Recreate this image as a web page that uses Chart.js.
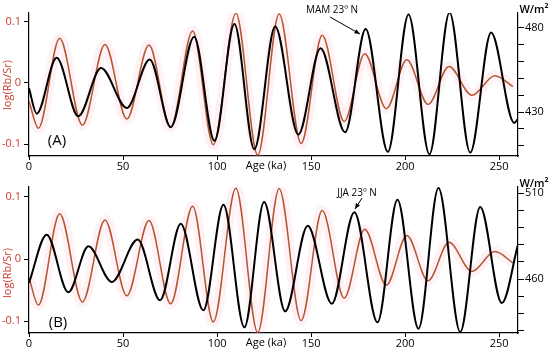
<!DOCTYPE html>
<html>
<head>
<meta charset="utf-8">
<script src="https://cdn.jsdelivr.net/npm/chart.js@4.4.0/dist/chart.umd.min.js"></script>
<style>
  html, body { margin: 0; padding: 0; background: #fff; }
  canvas { display: block; }
</style>
</head>
<body>
<canvas id="panelA" width="550" height="177"></canvas>
<canvas id="panelB" width="550" height="177"></canvas>
<script>
// log(Rb/Sr) record, peaks and troughs (same curve in A and B)
const rbsrAge = [0, 5, 16.3, 28.4, 40.4, 52, 63.8, 75.3, 87, 98, 110, 121.6, 133, 144.7, 155.9, 167.6, 178.5, 190, 200.9, 212.2, 223.3, 235.5, 247.7, 257.3];
const rbsrVal = [-0.03, -0.074, 0.073, -0.069, 0.063, -0.059, 0.062, -0.072, 0.085, -0.101, 0.114, -0.118, 0.113, -0.099, 0.078, -0.063, 0.048, -0.042, 0.038, -0.035, 0.027, -0.02, 0.012, -0.006];

// MAM insolation 23N (W/m2)
const mamAge = [0, 4.1, 14.7, 26.2, 38.3, 52, 64.2, 75.4, 87.8, 98.6, 109.2, 119.8, 130.9, 143.2, 155, 168.1, 179, 190.8, 201.8, 212.9, 223.6, 234.6, 245.7, 258, 260];
const mamVal = [444, 429, 462, 427.5, 456, 432.4, 461, 421, 474.5, 413, 482, 408, 480.5, 416.7, 467.6, 418, 479, 406.5, 487.6, 405, 488.8, 406, 477, 423.5, 426];

// JJA insolation 23N (W/m2)
const jjaAge = [0, 9.4, 20.9, 31.6, 44, 57.8, 69.7, 80.7, 92.7, 103.4, 114.5, 125, 136.2, 148.2, 161, 173, 185.3, 195.9, 207.1, 217.7, 229.3, 239.9, 251.4, 260];
const jjaVal = [457.7, 485.8, 452.3, 479, 458.3, 482.9, 447.6, 492.2, 441.8, 503.2, 431.9, 504.8, 441.2, 491, 445.6, 498.8, 434.8, 506.1, 431.1, 512.9, 429.2, 501.9, 446, 480];

const ageTicks = [0, 50, 100, 150, 200, 250];
const rbsrTicks = [-0.1, 0, 0.1];
const mamTicks = [410, 420, 430, 440, 450, 460, 470, 480];
const mamLabels = [430, 480];
const jjaTicks = [430, 440, 450, 460, 470, 480, 490, 500, 510];
const jjaLabels = [460, 510];

const FONT = "'Open Sans', 'DejaVu Sans', sans-serif";
const RED = "#b4562f";
const LABEL_RED = "#cc3a2e";

function toPoints(xs, ys) {
  return xs.map((x, i) => ({ x: x, y: ys[i] }));
}

function drawArrow(ctx, x1, y1, x2, y2) {
  ctx.beginPath();
  ctx.moveTo(x1, y1);
  ctx.lineTo(x2, y2);
  ctx.stroke();
  const a = Math.atan2(y2 - y1, x2 - x1);
  ctx.beginPath();
  ctx.moveTo(x2, y2);
  ctx.lineTo(x2 - 6 * Math.cos(a - 0.4), y2 - 6 * Math.sin(a - 0.4));
  ctx.lineTo(x2 - 6 * Math.cos(a + 0.4), y2 - 6 * Math.sin(a + 0.4));
  ctx.closePath();
  ctx.fill();
}

function makePanel(id, p) {
  const notes = {
    id: "notes",
    afterDraw(chart) {
      const ctx = chart.ctx;
      ctx.save();
      ctx.fillStyle = "#000";
      ctx.strokeStyle = "#000";
      ctx.lineWidth = 1;
      ctx.textBaseline = "middle";

      // y title
      ctx.save();
      ctx.translate(8, p.titleY);
      ctx.rotate(-Math.PI / 2);
      ctx.textAlign = "center";
      ctx.fillStyle = LABEL_RED;
      ctx.font = "11px " + FONT;
      ctx.fillText("log(Rb/Sr)", 0, 0);
      ctx.restore();

      ctx.textAlign = "center";
      ctx.font = "15px " + FONT;
      ctx.fillText(p.letter, p.letterX, p.letterY);

      ctx.font = "11px " + FONT;
      ctx.fillText("Age (ka)", 266, 166);
      ctx.font = "600 11px " + FONT;
      ctx.fillText("W/m\u00b2", 534, p.unitY);

      ctx.font = "10px " + FONT;
      ctx.fillText(p.note, p.noteX, p.noteY);
      drawArrow(ctx, p.arrow[0], p.arrow[1], p.arrow[2], p.arrow[3]);
      ctx.restore();
    },
  };

  return new Chart(document.getElementById(id), {
    type: "line",
    data: {
      datasets: [
        {
          data: toPoints(p.blackAge, p.blackVal),
          yAxisID: "yR",
          borderColor: "#000",
          borderWidth: 2,
          pointRadius: 0,
          cubicInterpolationMode: "monotone",
        },
        {
          data: toPoints(rbsrAge, rbsrVal),
          yAxisID: "yL",
          borderColor: RED,
          borderWidth: 1.5,
          pointRadius: 0,
          cubicInterpolationMode: "monotone",
        },
        {
          data: toPoints(rbsrAge, rbsrVal),
          yAxisID: "yL",
          borderColor: "rgba(255, 175, 205, 0.16)",
          borderWidth: 11,
          pointRadius: 0,
          cubicInterpolationMode: "monotone",
        },
      ],
    },
    options: {
      responsive: false,
      animation: false,
      devicePixelRatio: 1,
      layout: { padding: { top: p.top, left: 0, right: 0, bottom: 0 } },
      plugins: { legend: { display: false }, tooltip: { enabled: false } },
      scales: {
        x: {
          type: "linear",
          min: 0,
          max: 260,
          afterBuildTicks: (s) => { s.ticks = ageTicks.map((v) => ({ value: v })); },
          afterFit: (s) => { s.height = 21; },
          border: { color: "#000", width: 1.2 },
          grid: { drawOnChartArea: false, tickLength: 4, tickColor: "#000" },
          ticks: { color: "#000", padding: 0, font: { family: FONT, size: 11 } },
        },
        yL: {
          position: "left",
          min: p.leftMin,
          max: p.leftMax,
          afterBuildTicks: (s) => { s.ticks = rbsrTicks.map((v) => ({ value: v })); },
          afterFit: (s) => { s.width = 29; },
          border: { color: "#000", width: 1.2 },
          grid: { drawOnChartArea: false, tickLength: 5, tickColor: "#000" },
          ticks: {
            color: LABEL_RED,
            padding: 3,
            font: { family: FONT, size: 11 },
            callback: (v) => (v === 0 ? "0" : v.toFixed(1)),
          },
        },
        yR: {
          position: "right",
          min: p.rightMin,
          max: p.rightMax,
          afterBuildTicks: (s) => { s.ticks = p.rightTicks.map((v) => ({ value: v })); },
          afterFit: (s) => { s.width = 32; },
          border: { color: "#000", width: 1.2 },
          grid: { drawOnChartArea: false, tickLength: 6, tickColor: "#000" },
          ticks: {
            color: "#000",
            padding: 1,
            font: { family: FONT, size: 11 },
            callback: (v) => (p.rightLabels.includes(v) ? String(v) : ""),
          },
        },
      },
    },
    plugins: [notes],
  });
}

makePanel("panelA", {
  blackAge: mamAge,
  blackVal: mamVal,
  top: 13,
  leftMin: -0.1195,
  leftMax: 0.1145,
  rightMin: 404,
  rightMax: 488.5,
  rightTicks: mamTicks,
  rightLabels: mamLabels,
  letter: "(A)",
  letterX: 57,
  letterY: 141,
  titleY: 85,
  unitY: 10,
  note: "MAM 23\u00ba N",
  noteX: 332,
  noteY: 10,
  arrow: [330, 17, 360, 34],
});

makePanel("panelB", {
  blackAge: jjaAge,
  blackVal: jjaVal,
  top: 10,
  leftMin: -0.119,
  leftMax: 0.116,
  rightMin: 428.6,
  rightMax: 513.5,
  rightTicks: jjaTicks,
  rightLabels: jjaLabels,
  letter: "(B)",
  letterX: 58,
  letterY: 146,
  titleY: 96,
  unitY: 7,
  note: "JJA 23\u00ba N",
  noteX: 357,
  noteY: 16,
  arrow: [362, 21, 355, 32],
});
</script>
</body>
</html>
